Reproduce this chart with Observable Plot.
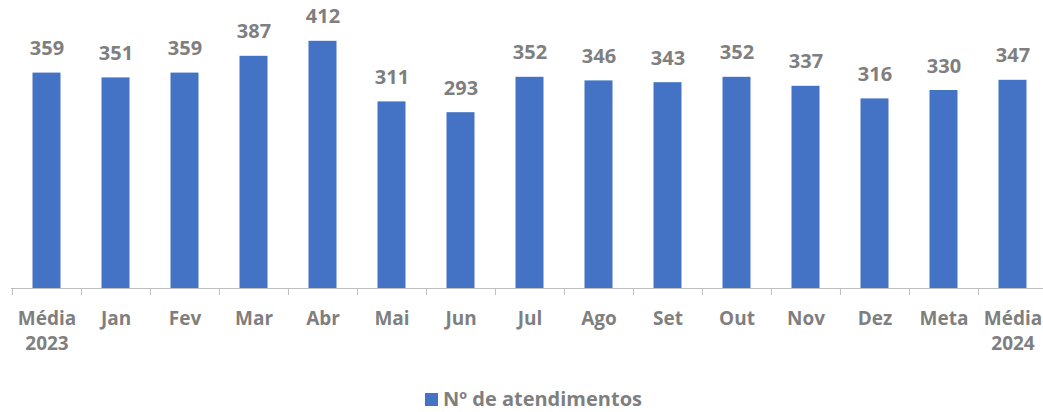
<!DOCTYPE html>
<html>
<head>
<meta charset="utf-8">
<script src="https://cdn.jsdelivr.net/npm/d3@7"></script>
<script src="https://cdn.jsdelivr.net/npm/@observablehq/plot@0.6"></script>
<style>
  html, body { margin: 0; padding: 0; background: #fff; }
  #chart { width: 1043px; }
  .legend { display: flex; justify-content: center; align-items: center; height: 26px; line-height: 26px;
    font-family: "Open Sans", sans-serif; font-weight: 700; font-size: 20px; color: #7f7f7f; padding-left: 24px; }
  .legend .sw { width: 13px; height: 13px; background: #4472C4; margin-right: 5px; }
</style>
</head>
<body>
<div id="chart"></div>
<script>
const categories = ["Média\n2023", "Jan", "Fev", "Mar", "Abr", "Mai", "Jun", "Jul", "Ago", "Set", "Out", "Nov", "Dez", "Meta", "Média\n2024"];
const values = [359, 351, 359, 387, 412, 311, 293, 352, 346, 343, 352, 337, 316, 330, 347];
const seriesName = "Nº de atendimentos";

const data = categories.map((c, i) => ({cat: c, value: values[i]}));

const W = 1043, H = 386;
const xRange = [11, 1047];
const step = (xRange[1] - xRange[0]) / categories.length;
const barColor = "#4472C4";
const textColor = "#7f7f7f";
const font = "Open Sans, sans-serif";

const chart = Plot.plot({
  width: W,
  height: H,
  marginLeft: 11,
  marginRight: 0,
  marginTop: 0,
  marginBottom: 0,
  style: {fontFamily: font, background: "#fff", overflow: "hidden"},
  x: {domain: categories, range: xRange, padding: 0, axis: null},
  y: {domain: [0, 450], range: [288, 18], axis: null},
  marks: [
    Plot.barY(data, {x: "cat", y: "value", fill: barColor, insetLeft: 20.5, insetRight: 20.5}),
    Plot.ruleY([0], {stroke: "#bfbfbf", strokeWidth: 1}),
    Plot.ruleX(data, {x: "cat", y1: () => 0, y2: () => 0, dx: -step / 2, insetBottom: -7, stroke: "#bfbfbf"}),
    Plot.ruleX(data.slice(-1), {x: "cat", y1: () => 0, y2: () => 0, dx: step / 2, insetBottom: -7, stroke: "#bfbfbf"}),
    Plot.text(data, {x: "cat", y: "value", text: d => String(d.value), lineAnchor: "bottom", dy: -18,
      fill: textColor, fontSize: 20, fontWeight: 700, fontFamily: font}),
    Plot.text(data, {x: "cat", y: () => 0, text: "cat", lineAnchor: "top", dy: 18, lineHeight: 1.35,
      fill: textColor, fontSize: 19, fontWeight: 700, fontFamily: font})
  ]
});
document.getElementById("chart").appendChild(chart);

const legend = document.createElement("div");
legend.className = "legend";
legend.innerHTML = `<span class="sw"></span><span></span>`;
legend.lastChild.textContent = seriesName;
document.getElementById("chart").appendChild(legend);
</script>
</body>
</html>
